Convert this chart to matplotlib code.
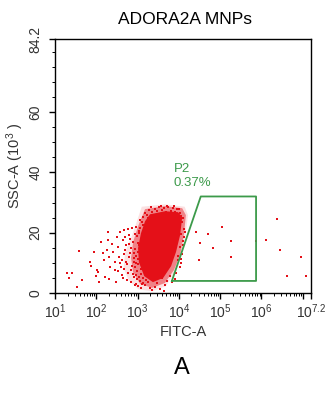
import numpy as np
import matplotlib
matplotlib.use("Agg")
import matplotlib.pyplot as plt
from matplotlib.ticker import FixedLocator, NullFormatter

plt.rcParams["font.family"] = "Liberation Sans"
plt.rcParams["mathtext.fontset"] = "custom"
plt.rcParams["mathtext.rm"] = "Liberation Sans"
plt.rcParams["mathtext.it"] = "Liberation Sans"

# ---- data (FITC as log10, SSC in 10^3) ----
# solid core of the population
core_logx = [3.30, 3.66, 3.98, 4.08, 4.03, 3.93, 3.81, 3.62, 3.37, 3.16, 3.03, 3.01, 3.08, 3.18]
core_ssc = [26.1, 27.1, 26.8, 25.1, 19.2, 13.6, 8.9, 5.0, 3.6, 5.6, 10.2, 14.9, 19.8, 23.8]

# medium-density ring
mid_logx = [3.18, 3.66, 4.08, 4.17, 4.12, 4.03, 3.88, 3.66, 3.35, 3.06, 2.89, 2.84, 2.89, 3.01]
mid_ssc = [27.8, 28.8, 28.1, 25.8, 19.2, 12.6, 7.6, 3.3, 1.7, 3.0, 6.9, 11.6, 16.9, 22.1]

# sparse outer extent
outer_logx = [3.10, 3.66, 4.14, 4.22, 4.16, 4.06, 3.90, 3.68, 3.35, 3.02, 2.78, 2.66, 2.70, 2.86, 3.00]
outer_ssc = [28.6, 29.4, 28.6, 25.8, 19.2, 12.6, 6.9, 2.2, 0.6, 1.2, 4.3, 8.3, 13.6, 18.8, 24.5]

# individual events around the population
dots_logx = [
    1.28, 1.40, 1.34, 1.53, 1.59, 1.65, 1.85, 1.87, 1.95, 2.01, 1.99, 2.05, 2.07, 2.11, 2.17,
    2.19, 2.21, 2.29, 2.29, 2.25, 2.31, 2.33, 2.31, 2.37, 2.41, 2.44, 2.45, 2.48, 2.49, 2.53,
    2.57, 2.55, 2.60, 2.62, 2.65, 2.68, 2.70, 2.71, 2.74, 2.78, 2.79, 2.82, 2.84, 2.87, 2.90,
    2.92,
    2.95, 3.00, 3.05, 2.93, 2.97, 3.01, 3.04, 2.99, 3.06, 3.09, 3.12, 2.96, 3.02, 3.08, 3.11,
    3.03, 3.10, 2.94, 3.07, 3.13, 3.15, 3.00, 2.98, 3.14, 3.16, 3.05, 2.92, 3.09, 3.18, 3.12,
    3.22, 3.28, 3.35, 3.41, 3.47, 3.52, 3.58, 3.63, 3.69, 3.74, 3.80, 3.86, 3.91, 3.96, 4.02,
    4.06, 3.25, 3.44, 3.77, 3.99,
    4.08, 4.12, 4.05, 4.10, 4.03, 4.07, 3.99, 4.02, 3.94, 4.13, 4.00, 3.97, 3.90, 4.04,
    3.24, 3.31, 3.38, 3.42, 3.48, 3.55, 3.60, 3.66, 3.72, 3.78, 3.84, 3.27, 3.51, 3.35, 3.63,
    2.62, 2.66, 2.68, 2.72, 2.75, 2.77, 2.80, 2.81, 2.83, 2.85, 2.86, 2.88, 2.89, 2.91, 2.93,
    2.94, 2.96, 2.97, 2.99, 3.01, 3.03, 3.04, 3.07, 3.08, 3.10, 3.13, 3.15, 3.17, 3.19, 3.20,
    2.76, 2.70, 2.64, 2.58, 2.52,
    3.33, 3.56, 3.71, 3.89, 4.00, 4.11, 4.15, 4.09, 4.06,
    4.41, 4.70, 5.04, 4.51, 4.82, 5.26, 4.49, 5.26, 5.86, 6.11, 6.37, 6.45, 6.97, 6.61, 7.07,
]
dots_ssc = [
    6.7, 6.7, 4.9, 1.9, 14.0, 4.3, 10.3, 9.0, 13.5, 7.6, 5.6, 7.0, 3.7, 17.0, 13.1,
    10.9, 5.4, 20.3, 17.5, 14.2, 11.8, 8.7, 4.5, 16.4, 13.7, 10.3, 7.6, 3.7, 18.4, 15.3,
    20.3, 12.0, 8.7, 6.0, 17.5, 20.8, 14.2, 10.3, 4.3, 19.2, 16.4, 13.1, 7.6, 21.4, 11.5,
    5.4,
    3.0, 2.2, 4.1, 8.5, 12.4, 9.6, 15.8, 18.9, 21.7, 6.2, 3.4, 6.0, 11.3, 13.9, 17.3,
    19.8, 23.5, 14.6, 8.1, 10.7, 20.9, 16.5, 4.6, 5.1, 14.8, 24.3, 10.4, 1.6, 2.5, 25.2,
    26.0, 27.4, 26.8, 28.0, 27.1, 28.4, 27.6, 28.2, 27.0, 28.5, 27.3, 28.1, 26.9, 27.7, 26.5,
    25.4, 24.8, 25.9, 26.4, 25.6,
    23.6, 21.2, 19.4, 17.1, 15.2, 13.0, 10.8, 8.6, 6.7, 18.6, 21.8, 12.1, 4.6, 11.2,
    3.7, 1.8, 4.4, 2.1, 3.2, 1.4, 4.9, 2.8, 4.0, 5.5, 3.5, 5.8, 5.6, 0.9, 0.7,
    11.0, 8.0, 13.0, 16.0, 9.5, 6.5, 11.8, 18.0, 14.8, 3.5, 9.0, 16.8, 6.2, 13.2, 19.5,
    2.6, 22.0, 9.9, 7.3, 13.5, 5.3, 20.6, 11.8, 16.2, 3.1, 22.4, 8.3, 12.9, 26.6, 4.2,
    21.3, 18.7, 5.1, 10.1, 7.3,
    28.6, 29.0, 28.9, 28.7, 27.9, 24.7, 20.3, 15.9, 9.8,
    20.1, 19.5, 21.9, 16.6, 15.0, 17.4, 10.9, 12.0, 17.2, 17.5, 24.5, 14.1, 12.0, 5.6, 5.6,
]

# P2 gate
gate_logx = [3.83, 4.53, 5.87, 5.87, 3.83]
gate_ssc = [4.0, 32.0, 32.0, 4.0, 4.0]
gate_name = "P2"
gate_pct = "0.37%"

x_major = [1, 2, 3, 4, 5, 6, 7, 7.2]
x_labels = [r"$\mathregular{10^{1}}$", r"$\mathregular{10^{2}}$", r"$\mathregular{10^{3}}$",
            r"$\mathregular{10^{4}}$", r"$\mathregular{10^{5}}$", r"$\mathregular{10^{6}}$",
            "", r"$\mathregular{10^{7.2}}$"]
y_major = [0, 20, 40, 60, 84.2]
y_labels = ["0", "20", "40", "60", "84.2"]

red = "#e41018"
green = "#3c9a4a"
grey = "#333333"

fig = plt.figure(figsize=(3.28, 4.0), dpi=100)
ax = fig.add_axes([0.168, 0.2675, 0.78, 0.635])

ax.set_xscale("log")
ax.set_xlim(10 ** 1, 10 ** 7.2)
ax.set_ylim(0, 84.2)

ax.fill(10 ** np.array(outer_logx), outer_ssc, color=red, alpha=0.12, lw=0, zorder=1)
ax.fill(10 ** np.array(mid_logx), mid_ssc, color=red, alpha=0.45, lw=0, zorder=1)
ax.fill(10 ** np.array(core_logx), core_ssc, color=red, alpha=1.0, lw=0, zorder=2)
ax.scatter(10 ** np.array(dots_logx), dots_ssc, s=1.6, marker="s", c=red, lw=0, zorder=3)

ax.plot(10 ** np.array(gate_logx), gate_ssc, c=green, lw=1.3, zorder=4)
ax.text(10 ** 3.88, 41, gate_name, color=green, fontsize=9.5, va="center", ha="left")
ax.text(10 ** 3.88, 36.4, gate_pct, color=green, fontsize=9.5, va="center", ha="left")

ax.xaxis.set_major_locator(FixedLocator([10 ** v for v in x_major]))
ax.set_xticklabels(x_labels)
minors = [m * 10 ** k for k in range(1, 7) for m in range(2, 10)]
ax.xaxis.set_minor_locator(FixedLocator(minors))
ax.xaxis.set_minor_formatter(NullFormatter())

ax.yaxis.set_major_locator(FixedLocator(y_major))
ax.set_yticklabels(y_labels, rotation=90, va="center")
ax.yaxis.set_minor_locator(FixedLocator(list(range(5, 81, 5))))

ax.tick_params(which="major", length=4, width=1, direction="out", labelsize=10,
               labelcolor=grey, pad=3)
ax.tick_params(which="minor", length=2.5, width=0.7, direction="out")
ax.tick_params(axis="y", pad=5)

for sp in ax.spines.values():
    sp.set_linewidth(1.0)
    sp.set_color("black")

ax.set_xlabel("FITC-A", fontsize=10.5, color=grey, labelpad=3)
ax.set_ylabel(r"SSC-A (10$^{3}$ )", fontsize=10.5, color=grey, labelpad=2)

fig.text(0.565, 0.952, "ADORA2A MNPs", fontsize=12.5, ha="center", va="center")
fig.text(0.555, 0.08, "A", fontsize=17, ha="center", va="center")

plt.savefig("out.png", dpi=100)
plt.close()
